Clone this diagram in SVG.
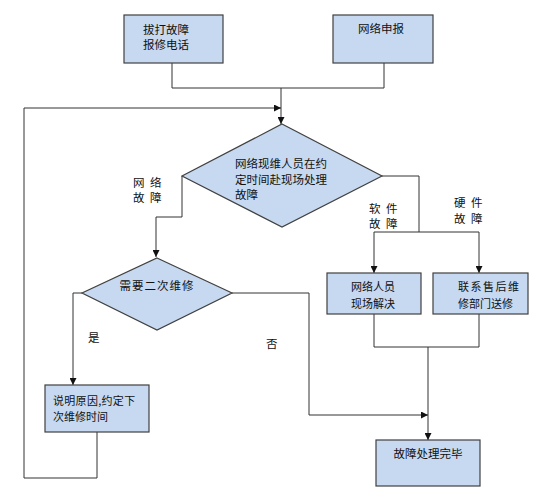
<svg xmlns="http://www.w3.org/2000/svg" width="541" height="500" viewBox="0 0 541 500">
<defs>
<marker id="arr" viewBox="0 0 8 8" refX="8" refY="4" markerWidth="7" markerHeight="7" markerUnits="userSpaceOnUse" orient="auto">
<path d="M0,0 L8,4 L0,8 z" fill="#111"/>
</marker>
</defs>
<style>
.box{fill:#c7d9f0;stroke:#404040;stroke-width:1.2}
.ln{fill:none;stroke:#333;stroke-width:1}
.t{font-family:"Noto Sans CJK SC","Noto Sans",sans-serif;font-size:11.5px;fill:#111;dominant-baseline:central}
.s{font-size:11px}
.sp{letter-spacing:1.5px}
.c{text-anchor:middle}
</style>
<rect width="541" height="500" fill="#fff"/>
<g id="connectors">
<path class="ln" d="M172,63 V88 H384 V63"/>
<path class="ln" d="M281,88 V124" marker-end="url(#arr)"/>
<path class="ln" d="M97,432 V478 H24 V108 H281" marker-end="url(#arr)"/>
<path class="ln" d="M182,176 V217 H156 V257" marker-end="url(#arr)"/>
<path class="ln" d="M382,176 H419 V232"/>
<path class="ln" d="M374,232 H479"/>
<path class="ln" d="M374,232 V273" marker-end="url(#arr)"/>
<path class="ln" d="M479,232 V273" marker-end="url(#arr)"/>
<path class="ln" d="M82,293 H73 V385" marker-end="url(#arr)"/>
<path class="ln" d="M232,293 H309 V415 H428" marker-end="url(#arr)"/>
<path class="ln" d="M374,314 V347 H479 V314"/>
<path class="ln" d="M428,347 V440" marker-end="url(#arr)"/>
</g>
<g id="labels">
<text class="t sp" x="133" y="182">网 络</text>
<text class="t sp" x="133" y="197">故 障</text>
<text class="t sp" x="369" y="208">软 件</text>
<text class="t sp" x="369" y="223">故 障</text>
<text class="t sp" x="454" y="202">硬 件</text>
<text class="t sp" x="454" y="218">故 障</text>
<text class="t" x="88" y="337">是</text>
<text class="t" x="266" y="343">否</text>
</g>
<g id="n1">
<rect class="box" x="124" y="15" width="99" height="48"/>
<text class="t" x="143" y="29">拔打故障</text>
<text class="t" x="143" y="44">报修电话</text>
</g>
<g id="n2">
<rect class="box" x="333" y="15" width="100" height="48"/>
<text class="t" x="358" y="28">网络申报</text>
</g>
<g id="d1">
<polygon class="box" points="282,124 382,176 282,227 182,176"/>
<text class="t" x="235" y="163">网络现维人员在约</text>
<text class="t" x="235" y="179">定时间赴现场处理</text>
<text class="t" x="235" y="194">故障</text>
</g>
<g id="d2">
<polygon class="box" points="157,258 232,293 157,330 82,293"/>
<text class="t c" x="157" y="285" letter-spacing="1">需要二次维修</text>
</g>
<g id="n3">
<rect class="box" x="45" y="385" width="104" height="47"/>
<text class="t s" x="53" y="400" letter-spacing="0.3">说明原因,约定下</text>
<text class="t s" x="53" y="415.5">次维修时间</text>
</g>
<g id="n4">
<rect class="box" x="327" y="273" width="94" height="41"/>
<text class="t s c" x="373" y="286">网络人员</text>
<text class="t s c" x="373" y="303">现场解决</text>
</g>
<g id="n5">
<rect class="box" x="433" y="273" width="95" height="41"/>
<text class="t s" x="458" y="286" letter-spacing="1.5">联系售后维</text>
<text class="t s" x="458" y="303">修部门送修</text>
</g>
<g id="n6">
<rect class="box" x="376" y="440" width="104" height="46"/>
<text class="t c" x="428" y="453">故障处理完毕</text>
</g>
</svg>
